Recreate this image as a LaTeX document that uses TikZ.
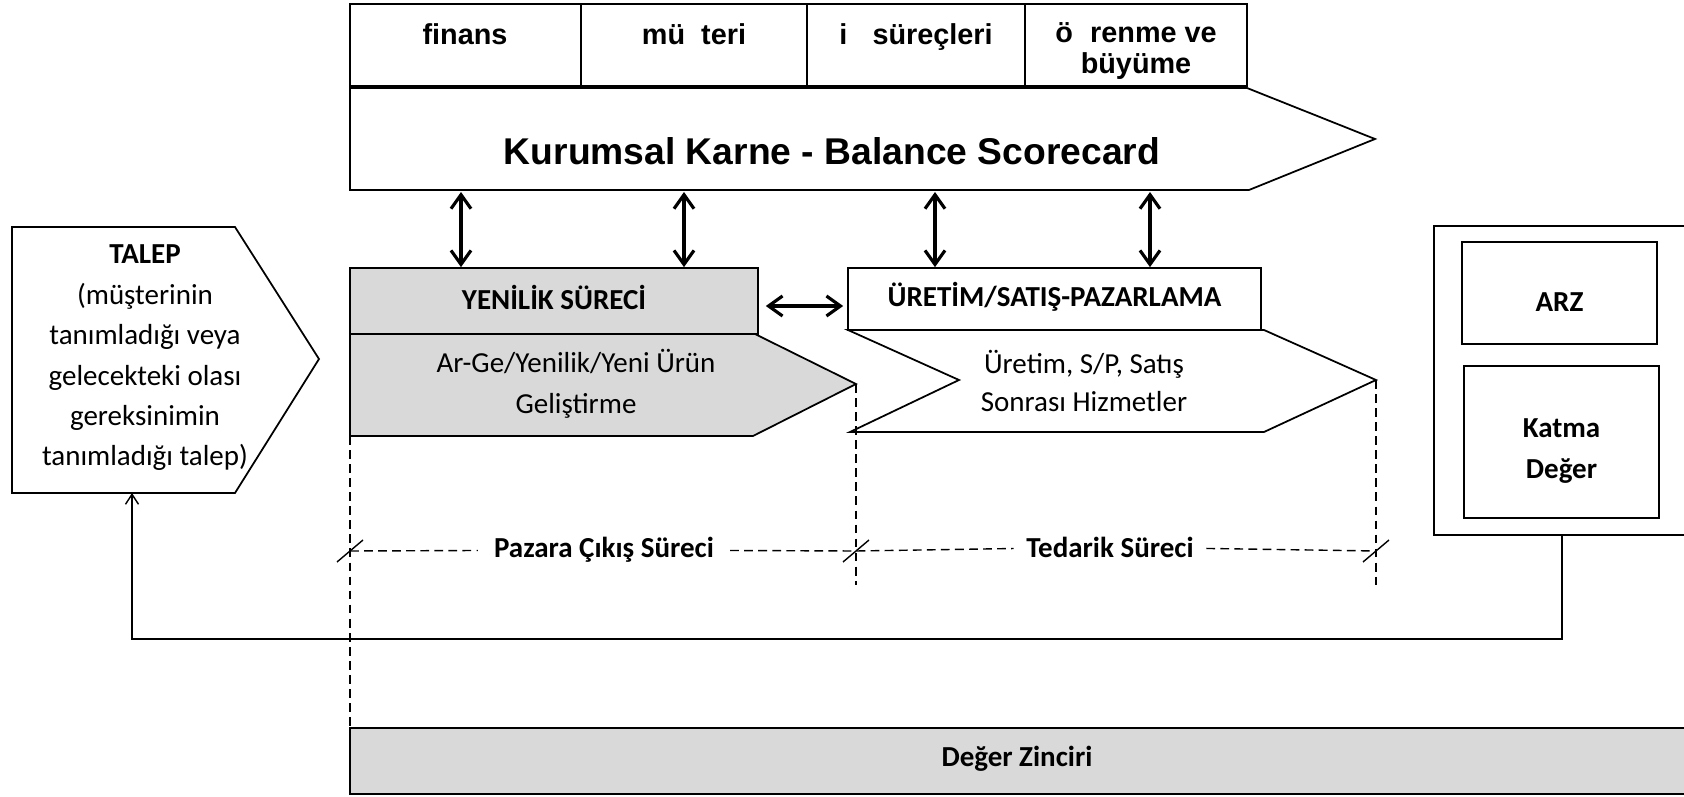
\documentclass[tikz,border=0pt]{standalone}
\usepackage{fontspec}
\setmainfont{Carlito}
\newfontfamily\arialfont{Liberation Sans}
\usepackage{tikz}
\usetikzlibrary{arrows.meta,positioning,calc}
\colorlet{boxgrey}{black!15}

\begin{document}
\begin{tikzpicture}[
x=0.02cm, y=-0.02cm,
MyBoxes/.style={draw=black,line width=1pt},
GreyBoxes/.style={MyBoxes,fill=boxgrey},
HeadText/.style={font=\arialfont\bfseries\fontsize{16.4}{17.5}\selectfont,align=center},
TitleText/.style={font=\arialfont\bfseries\fontsize{21.2}{26}\selectfont},
BodyText/.style={font=\fontsize{16.5}{23}\selectfont,align=center},
BoldText/.style={font=\bfseries\fontsize{16.5}{23}\selectfont,align=center},
DoubleArrow/.style={{Straight Barb[length=2.8mm,width=4mm]}-{Straight Barb[length=2.8mm,width=4mm]},line width=1.8pt},
FeedBack/.style={-{Straight Barb[length=2mm,width=2.6mm]},line width=0.8pt},
DashLine/.style={dash pattern=on 5pt off 3pt,line width=0.8pt},
Ticks/.style={line width=0.8pt}
]
\useasboundingbox (0,0) rectangle (1684,797);

% balanced scorecard
\draw[MyBoxes] (350,4) rectangle (581,86);
\draw[MyBoxes] (581,4) rectangle (807,86);
\draw[MyBoxes] (807,4) rectangle (1025,86);
\draw[MyBoxes] (1025,4) rectangle (1247,86);
\node[HeadText,anchor=base] (finans) at (465,45) {finans};
\node[HeadText,anchor=base] (musteri) at (694,45) {mü\hspace{0.56em}teri};
\node[HeadText,anchor=base] (surec) at (916,45) {i\hspace{0.6em} süreçleri};
\node[HeadText,font=\arialfont\bfseries\fontsize{16.4}{18}\selectfont] (ogrenme) at (1136,51) {ö\hspace{0.6em}renme ve\\büyüme};

\draw[MyBoxes] (350,88) -- (1247,88) -- (1375,139) -- (1249,190) -- (350,190) -- cycle;
\node[TitleText] (karne) at (832,151) {Kurumsal Karne - Balance Scorecard};

% talep
\draw[MyBoxes] (12,227) -- (235,227) -- (319,359) -- (235,493) -- (12,493) -- cycle;
\node[BodyText] (talep) at (145,358) {\textbf{TALEP}\\(müşterinin\\tanımladığı veya\\gelecekteki olası\\gereksinimin\\tanımladığı talep)};
\coordinate (talepbot) at (132,493);

% processes
\node[GreyBoxes,minimum width=8.16cm,minimum height=1.32cm] (yenilik) at (554,301) {};
\node[BoldText] (yenilikyazi) at (554,297) {YENİLİK SÜRECİ};
\draw[GreyBoxes] (350,334) -- (755,334) -- (856,384) -- (753,436) -- (350,436) -- cycle;
\node[BodyText] (arge) at (576,384) {Ar-Ge/Yenilik/Yeni Ürün\\Geliştirme};

\node[MyBoxes,minimum width=8.26cm,minimum height=1.24cm] (uretim) at (1054.5,299) {};
\node[BoldText] (uretimyazi) at (1054.5,297) {ÜRETİM/SATIŞ-PAZARLAMA};
\draw[MyBoxes] (848,330) -- (1264,330) -- (1376,380) -- (1264,432) -- (850,432) -- (959,380) -- cycle;
\node[BodyText,font=\fontsize{16.5}{21.5}\selectfont] (satis) at (1084,381) {Üretim, S/P, Satış\\Sonrası Hizmetler};

\coordinate (k1) at (461,192);
\coordinate (k2) at (684,192);
\coordinate (k3) at (935,192);
\coordinate (k4) at (1150,192);
\draw[DoubleArrow] (k1) -- (k1 |- yenilik.north);
\draw[DoubleArrow] (k2) -- (k2 |- yenilik.north);
\draw[DoubleArrow] (k3) -- (k3 |- uretim.north);
\draw[DoubleArrow] (k4) -- (k4 |- uretim.north);
\draw[DoubleArrow,shorten <=0.14cm,shorten >=0.08cm] ([yshift=-0.1cm]yenilik.east) -- ([yshift=-0.1cm]yenilik.east -| uretim.west);

% arz
\node[MyBoxes,minimum width=5.12cm,minimum height=6.18cm] (dis) at (1562,380.5) {};
\node[MyBoxes,minimum width=3.9cm,minimum height=2.04cm] (arz) at (1559.5,293) {};
\node[BoldText] (arzyazi) at (1559.5,302) {ARZ};
\node[MyBoxes,minimum width=3.9cm,minimum height=3.04cm] (katma) at (1561.5,442) {};
\node[BoldText] (katmayazi) at (1561.5,451) {Katma\\Değer};

\coordinate (donus) at (132,639);
\draw[FeedBack] (dis.south) |- (donus) -- (talepbot);

% sureler
\coordinate (t1) at (350,551);
\coordinate (t2) at (856,551);
\coordinate (t3) at (1376,551);
\draw[DashLine] (350,436) -- (350,728);
\draw[DashLine] (856,384) -- (856,585);
\draw[DashLine] (1376,380) -- (1376,585);
\node[BoldText,inner xsep=9pt] (pazara) at (604,550) {Pazara Çıkış Süreci};
\node[BoldText,inner xsep=7pt] (tedarik) at (1110,547) {Tedarik Süreci};
\draw[DashLine] (t1) -- (pazara) -- (t2) -- (tedarik) -- (t3);
\foreach \t in {t1,t2,t3}
  \draw[Ticks] ($(\t)+(-13,11)$) -- ($(\t)+(13,-11)$);

% deger zinciri
\draw[GreyBoxes] (350,728) rectangle (1690,794);
\node[BoldText] (zincir) at (1017,759) {Değer Zinciri};

\end{tikzpicture}
\end{document}
